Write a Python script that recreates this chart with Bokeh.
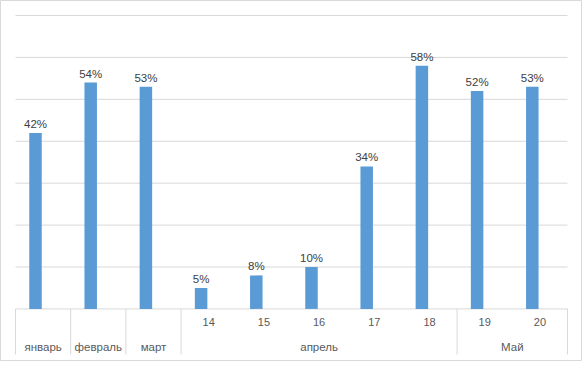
from bokeh.plotting import figure
from bokeh.models import FactorRange, Range1d, ColumnDataSource
from bokeh.transform import dodge
from bokeh.core.properties import value
from bokeh.embed import file_html
from bokeh.resources import INLINE

# ---- data ----
months = ["январь", "февраль", "март", "апрель", "апрель", "апрель", "апрель", "апрель", "Май", "Май"]
days = ["", "", "", "14", "15", "16", "17", "18", "19", "20"]
values = [42, 54, 53, 5, 8, 10, 34, 58, 52, 53]
y_ticks = [10, 20, 30, 40, 50, 60, 70]

labels = [f"{v}%" for v in values]
factors = list(zip(months, days))
N = len(factors)

# ---- layout constants ----
W, H = 582, 361
PX_PER_CAT = 55.2
PX_PER_PCT = 293 / 70.0
BASE_Y = 308.5  # pixel row of 0%
pad_units = 15 / PX_PER_CAT

x_range = FactorRange(*factors, factor_padding=0, group_padding=0, subgroup_padding=0,
                      range_padding=pad_units, range_padding_units="absolute")
y_top = 70 + 15 / PX_PER_PCT
y_bot = -(H - BASE_Y) / PX_PER_PCT
y_range = Range1d(y_bot, y_top)

p = figure(x_range=x_range, y_range=y_range, width=W, height=H, min_border=0,
           toolbar_location=None, output_backend="svg",
           x_axis_location=None, y_axis_location=None)
p.xgrid.visible = False
p.ygrid.visible = False
p.outline_line_color = "#d9d9d9"
p.outline_line_width = 1
p.background_fill_color = "white"
p.border_fill_color = "white"

GRID = "#d9d9d9"
FONT = value("Liberation Sans")

# gridlines (0 = axis line)
grid_src = ColumnDataSource(dict(x0=[0] * (len(y_ticks) + 1), x1=[N] * (len(y_ticks) + 1),
                                 y=[0] + y_ticks))
p.segment(x0="x0", x1="x1", y0="y", y1="y", source=grid_src, line_color=GRID, line_width=1)

# category separators below axis (group boundaries)
bounds = [0] + [i for i in range(1, N) if months[i] != months[i - 1]] + [N]
sep_bottom = -(354 - BASE_Y) / PX_PER_PCT
sep_src = ColumnDataSource(dict(x=bounds, y0=[0] * len(bounds), y1=[sep_bottom] * len(bounds)))
p.segment(x0="x", x1="x", y0="y0", y1="y1", source=sep_src, line_color=GRID, line_width=1)

# bars
src = ColumnDataSource(dict(x=factors, top=values, lab=labels))
off = -7.6 / PX_PER_CAT
p.vbar(x=dodge("x", off, range=p.x_range), top="top", bottom=0, width=12.5 / PX_PER_CAT,
       source=src, fill_color="#5B9BD5", line_color=None)
p.text(x=dodge("x", off, range=p.x_range), y="top", text="lab", source=src,
       text_font=FONT, text_font_size="11.5px", text_color="#404040",
       text_align="center", text_baseline="alphabetic", y_offset=-9)

# axis labels: inner (days)
day_y = -(322 - BASE_Y) / PX_PER_PCT
inner = [(f, d) for f, d in zip(factors, days) if d]
day_src = ColumnDataSource(dict(x=[f for f, d in inner], y=[day_y] * len(inner), t=[d for f, d in inner]))
p.text(x="x", y="y", text="t", source=day_src, text_font=FONT, text_font_size="11px",
       text_color="#595959", text_align="center", text_baseline="middle")

# axis labels: outer (months)
groups = []
for m in months:
    if m not in groups:
        groups.append(m)
mon_y = -(347 - BASE_Y) / PX_PER_PCT
mon_src = ColumnDataSource(dict(x=groups, y=[mon_y] * len(groups), t=groups))
p.text(x="x", y="y", text="t", source=mon_src, text_font=FONT, text_font_size="11.5px",
       text_color="#595959", text_align="center", text_baseline="middle")

open("out.html", "w").write(file_html(p, INLINE))
